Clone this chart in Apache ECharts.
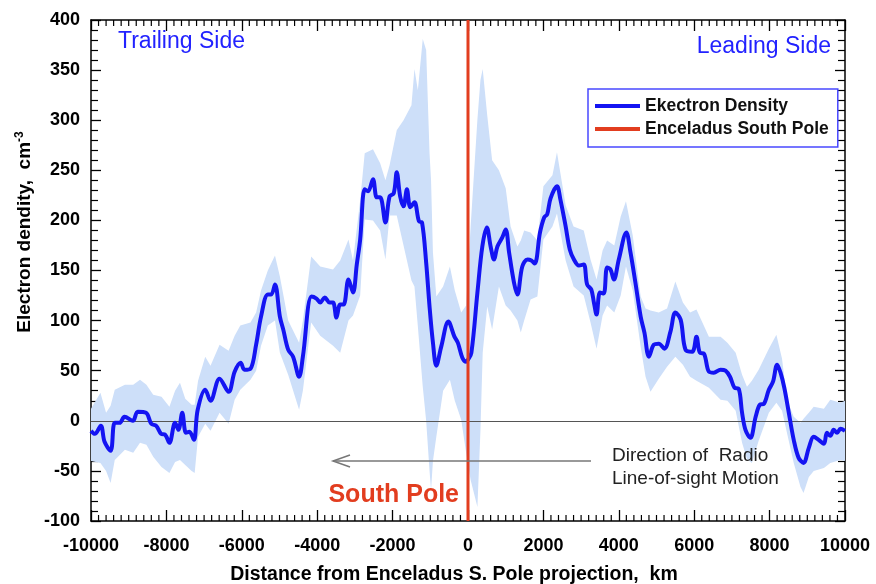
<!DOCTYPE html>
<html><head><meta charset="utf-8">
<script src="https://cdn.jsdelivr.net/npm/echarts@6/dist/echarts.min.js"></script>
<style>html,body{margin:0;padding:0;background:#fff}#c{width:876px;height:584px}</style>
</head><body><div id="c"></div>
<script>
// Mean electron density (km, cm^-3)
const meanX = [-10000,-9900,-9740,-9640,-9480,-9370,-9240,-9110,-8890,-8760,
 -8540,-8400,-8270,-8140,-8030,-7920,-7770,-7680,-7580,-7480,
 -7390,-7270,-7170,-6970,-6830,-6590,-6350,-6190,-6030,-5930,
 -5770,-5620,-5490,-5310,-5220,-5120,-4990,-4900,-4770,-4640,
 -4480,-4380,-4150,-4020,-3920,-3800,-3670,-3580,-3490,-3390,
 -3300,-3170,-3050,-2950,-2860,-2740,-2650,-2520,-2420,-2330,
 -2190,-2080,-1970,-1890,-1800,-1710,-1620,-1530,-1420,-1300,
 -1220,-1110,-1020,-930,-840,-710,-520,-360,-270,-150,
 -50,0,90,250,380,500,600,690,780,910,
 1000,1090,1220,1310,1440,1580,1680,1770,1910,2020,
 2100,2190,2360,2450,2590,2700,2810,2940,3070,3160,
 3270,3340,3410,3500,3600,3690,3780,3870,4000,4200,
 4310,4440,4580,4680,4800,4930,5060,5210,5370,5500,
 5640,5770,5950,6060,6150,6260,6390,6520,6700,6830,
 6950,7070,7180,7270,7360,7490,7630,7740,7850,7980,
 8090,8200,8290,8390,8510,8640,8770,8900,9040,9170,
 9300,9440,9520,9610,9700,9790,9880,10000];
const meanY = [-10,-13,-5,-21,-30,-2,-2,4,0,9,
 8,-3,-5,-13,-14,-22,-2,-9,8,-12,
 -11,-19,11,31,20,42,29,49,58,51,
 52,76,104,126,126,136,104,91,71,64,
 44,64,124,122,118,123,118,118,103,116,
 116,141,128,156,181,231,229,241,223,223,
 198,224,227,248,224,214,231,213,218,199,
 198,158,114,78,55,74,99,84,78,63,
 59,61,68,128,174,193,174,161,174,183,
 191,168,138,126,154,161,160,157,188,203,
 206,222,234,221,194,171,161,155,156,136,
 131,118,106,128,127,153,151,141,161,188,
 168,138,104,88,64,76,77,72,89,108,
 101,71,69,84,68,67,49,48,51,50,
 44,33,32,8,-9,-17,4,16,17,31,
 39,56,48,33,8,-19,-37,-42,-27,-16,
 -19,-23,-12,-15,-9,-12,-8,-10];

// Uncertainty band
const bandX = [-10000,-9750,-9600,-9480,-9370,-9100,-8880,-8700,-8530,-8350,
 -8130,-7920,-7770,-7640,-7500,-7330,-7250,-7160,-6970,-6830,
 -6590,-6350,-6190,-6040,-5770,-5620,-5490,-5310,-5120,-4990,
 -4770,-4480,-4380,-4160,-3920,-3580,-3390,-3170,-3050,-2860,
 -2740,-2520,-2330,-2190,-2080,-1890,-1710,-1500,-1420,-1330,
 -1200,-1110,-1020,-980,-930,-840,-660,-480,-350,-180,
 -50,70,250,330,390,510,640,820,1000,1130,
 1310,1400,1490,1660,1840,2000,2240,2360,2590,2800,
 3070,3250,3410,3570,3690,3880,4050,4190,4370,4580,
 4710,4840,5060,5280,5500,5700,5890,6060,6390,6700,
 6880,7100,7270,7400,7530,7710,7980,8180,8330,8460,
 8640,8820,8900,9040,9170,9440,9610,9880,10000];
const bandUpper = [12,28,8,15,31,36,36,41,36,26,
 24,14,30,38,22,16,16,40,64,55,
 76,70,85,95,98,108,130,150,165,144,
 100,78,100,164,154,151,160,181,160,220,
 267,271,257,240,255,290,300,315,351,330,
 381,370,267,240,168,124,134,154,130,108,
 115,194,301,340,351,305,260,250,232,194,
 174,180,190,188,180,234,245,268,215,194,
 190,161,141,170,180,175,204,219,185,124,
 112,110,108,112,139,118,108,111,84,84,
 78,68,46,34,40,51,72,86,62,21,
 4,-2,2,8,14,12,21,18,20];
const bandLower = [-40,-42,-50,-62,-39,-29,-32,-22,-24,-36,
 -46,-52,-41,-39,-44,-50,-52,-16,-3,-10,
 8,-3,21,31,41,50,75,95,100,68,
 46,11,30,98,85,75,68,100,105,125,
 201,200,190,161,205,205,175,140,134,94,
 34,0,-50,-69,-40,-16,30,41,20,1,
 -32,-59,-86,-10,68,114,91,134,115,110,
 100,88,100,121,124,181,194,207,160,134,
 125,98,72,105,115,108,125,154,130,74,
 44,29,42,54,64,56,44,40,33,21,
 20,10,-22,-38,-42,-20,8,18,10,-12,
 -42,-66,-72,-56,-50,-47,-42,-39,-40];

const poleX = [0, 0];
const poleY = [-100, 400];

const X_MIN = -10000, X_MAX = 10000, X_STEP = 2000, X_MINOR_STEP = 200;
const Y_MIN = -100, Y_MAX = 400, Y_STEP = 50;

// minor x tick positions (between the labelled ticks)
const xMinorTicks = [];
for (let v = X_MIN + X_MINOR_STEP; v < X_MAX; v += X_MINOR_STEP) {
  if (v % X_STEP !== 0) xMinorTicks.push(v);
}

const FONT = '"Liberation Sans", Arial, sans-serif';
const chart = echarts.init(document.getElementById('c'));

const plain = v => String(v);
const xAxisBase = {
  type: 'value', min: X_MIN, max: X_MAX, interval: X_STEP,
  axisLine: { show: true, onZero: false, lineStyle: { color: '#000', width: 1.5 } },
  axisTick: { show: true, inside: true, length: 11, lineStyle: { color: '#000', width: 1.3 } },
  splitLine: { show: false }
};
const yAxisBase = {
  type: 'value', min: Y_MIN, max: Y_MAX, interval: Y_STEP,
  axisLine: { show: true, onZero: false, lineStyle: { color: '#000', width: 1.5 } },
  axisTick: { show: true, inside: true, length: 10, lineStyle: { color: '#000', width: 1.3 } },
  minorTick: { show: true, splitNumber: 5, length: 7, lineStyle: { color: '#000', width: 1.2 } },
  splitLine: { show: false }, minorSplitLine: { show: false }
};

function renderBand(params, api) {
  if (params.dataIndex !== 0) return null;
  const pts = [];
  for (let i = 0; i < bandX.length; i++) pts.push(api.coord([bandX[i], bandUpper[i]]));
  for (let i = bandX.length - 1; i >= 0; i--) pts.push(api.coord([bandX[i], bandLower[i]]));
  return { type: 'polygon', shape: { points: pts }, style: { fill: '#cddff9', stroke: null } };
}

function renderMinorX(params, api) {
  const b = api.coord([api.value(0), Y_MIN]);
  const t = api.coord([api.value(0), Y_MAX]);
  const st = { stroke: '#000', lineWidth: 1.2 };
  return { type: 'group', children: [
    { type: 'line', shape: { x1: b[0], y1: b[1], x2: b[0], y2: b[1] - 6 }, style: st },
    { type: 'line', shape: { x1: t[0], y1: t[1], x2: t[0], y2: t[1] + 6 }, style: st }
  ] };
}

chart.setOption({
  animation: false,
  backgroundColor: '#fff',
  grid: { left: 91, right: 31, top: 20, bottom: 63, outerBoundsMode: 'none', containLabel: false },
  xAxis: [
    Object.assign({}, xAxisBase, {
      position: 'bottom',
      name: 'Distance from Enceladus S. Pole projection,  km',
      nameLocation: 'middle', nameGap: 44,
      nameTextStyle: { fontFamily: FONT, fontWeight: 'bold', fontSize: 19.5, color: '#000', padding: [0, 28, 0, 0] },
      axisLabel: { fontFamily: FONT, fontWeight: 'bold', fontSize: 18, color: '#000', margin: 16, formatter: plain }
    }),
    Object.assign({}, xAxisBase, { position: 'top', axisLabel: { show: false } })
  ],
  yAxis: [
    Object.assign({}, yAxisBase, {
      position: 'left',
      axisLabel: { fontFamily: FONT, fontWeight: 'bold', fontSize: 18, color: '#000', margin: 11, formatter: plain }
    }),
    Object.assign({}, yAxisBase, { position: 'right', axisLabel: { show: false } })
  ],
  legend: {
    data: ['Ekectron Density', 'Enceladus South Pole'],
    orient: 'vertical', left: 588, top: 89,
    padding: [8, 9, 9, 7], itemGap: 5,
    itemWidth: 45, itemHeight: 4, icon: 'rect',
    backgroundColor: '#fff', borderColor: '#4848ff', borderWidth: 1.5,
    textStyle: { fontFamily: FONT, fontWeight: 'bold', fontSize: 17.5, color: '#111', lineHeight: 18 }
  },
  series: [
    {
      name: 'band', type: 'custom', renderItem: renderBand,
      data: bandX.map((x, i) => [x, bandLower[i], bandUpper[i]]),
      encode: { x: 0, y: [1, 2] }, silent: true, z: 1, clip: true
    },
    {
      name: 'minorTicksX', type: 'custom', renderItem: renderMinorX,
      data: xMinorTicks.map(v => [v]), encode: { x: 0 }, silent: true, z: 5, clip: false
    },
    {
      name: 'Ekectron Density', type: 'line',
      data: meanX.map((x, i) => [x, meanY[i]]),
      symbol: 'none', smooth: 0.35,
      lineStyle: { color: '#1414f2', width: 4 }, itemStyle: { color: '#1414f2' },
      z: 3,
      markLine: {
        silent: true, symbol: 'none', label: { show: false },
        lineStyle: { color: '#555', width: 1.2, type: 'solid' },
        data: [{ yAxis: 0 }],
        z: 2
      }
    },
    {
      name: 'Enceladus South Pole', type: 'line',
      data: poleX.map((x, i) => [x, poleY[i]]),
      symbol: 'none', lineStyle: { color: '#e23d1f', width: 3 }, itemStyle: { color: '#e23d1f' },
      z: 4
    }
  ],
  graphic: [
    { type: 'text', x: 25, y: 232, rotation: Math.PI / 2, z: 100,
      style: { text: '{a|Electron dendity,  cm}{b|-3}', align: 'center', verticalAlign: 'middle',
        rich: { a: { fontFamily: FONT, fontWeight: 'bold', fontSize: 19, fill: '#000', lineHeight: 22 },
                b: { fontFamily: FONT, fontWeight: 'bold', fontSize: 12, fill: '#000', verticalAlign: 'top', lineHeight: 22 } } } },
    { type: 'text', x: 118, y: 42, z: 100,
      style: { text: 'Trailing Side', fontFamily: FONT, fontSize: 23, fill: '#2222ff', align: 'left', verticalAlign: 'middle' } },
    { type: 'text', x: 831, y: 47, z: 100,
      style: { text: 'Leading Side', fontFamily: FONT, fontSize: 23, fill: '#2222ff', align: 'right', verticalAlign: 'middle' } },
    { type: 'text', x: 459, y: 495, z: 100,
      style: { text: 'South Pole', fontFamily: FONT, fontWeight: 'bold', fontSize: 25, fill: '#e23d1f', align: 'right', verticalAlign: 'middle' } },
    { type: 'text', x: 612, y: 456, z: 100,
      style: { text: 'Direction of  Radio', fontFamily: FONT, fontSize: 19, fill: '#222', align: 'left', verticalAlign: 'middle' } },
    { type: 'text', x: 612, y: 479, z: 100,
      style: { text: 'Line-of-sight Motion', fontFamily: FONT, fontSize: 19, fill: '#222', align: 'left', verticalAlign: 'middle' } },
    { type: 'polyline', shape: { points: [[591, 461], [333, 461]] }, style: { stroke: '#777', lineWidth: 1.5, fill: null }, z: 100 },
    { type: 'polyline', shape: { points: [[350, 455], [333, 461], [350, 467]] }, style: { stroke: '#777', lineWidth: 1.5, fill: null }, z: 100 }
  ]
});
</script>
</body></html>
